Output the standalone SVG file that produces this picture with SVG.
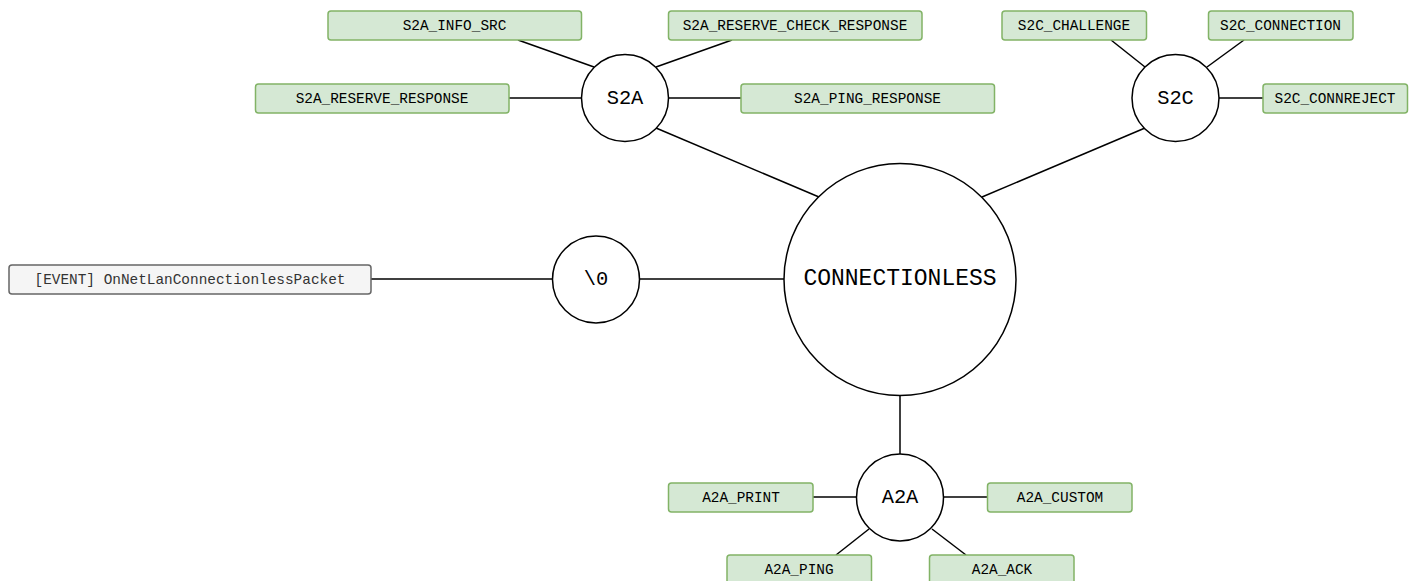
<svg xmlns="http://www.w3.org/2000/svg" width="1412" height="581" viewBox="0 0 1412 581">
<style>
.box{fill:#d5e8d4;stroke:#82b366;stroke-width:1.5}
.ev{fill:#f5f5f5;stroke:#666666;stroke-width:1.5}
.circ{fill:#ffffff;stroke:#000000;stroke-width:1.5}
.edge{stroke:#000000;stroke-width:1.5;fill:none}
.bt{font-family:"Liberation Mono",monospace;font-size:14.4px;fill:#000000;text-anchor:middle;dominant-baseline:central}
.et{font-family:"Liberation Mono",monospace;font-size:14.4px;fill:#333333;text-anchor:middle;dominant-baseline:central}
.ct{font-family:"Liberation Mono",monospace;font-size:20.4px;fill:#000000;text-anchor:middle;dominant-baseline:central}
.big{font-family:"Liberation Mono",monospace;font-size:23px;fill:#000000;text-anchor:middle;dominant-baseline:central}
</style>
<rect width="1412" height="581" fill="#ffffff"/>
<g id="connectors">
<line class="edge" x1="518" y1="40" x2="594" y2="67"/>
<line class="edge" x1="732" y1="40" x2="656" y2="67"/>
<line class="edge" x1="509" y1="98" x2="582" y2="98"/>
<line class="edge" x1="668" y1="98" x2="741" y2="98"/>
<line class="edge" x1="656" y1="128" x2="819" y2="197"/>
<line class="edge" x1="1111" y1="40" x2="1145" y2="67"/>
<line class="edge" x1="1244" y1="40" x2="1207" y2="67"/>
<line class="edge" x1="1219" y1="98" x2="1263" y2="98"/>
<line class="edge" x1="1145" y1="128" x2="982" y2="197"/>
<line class="edge" x1="371" y1="279" x2="553" y2="279"/>
<line class="edge" x1="639" y1="279" x2="784" y2="279"/>
<line class="edge" x1="900" y1="396" x2="900" y2="454"/>
<line class="edge" x1="813" y1="497" x2="857" y2="497"/>
<line class="edge" x1="943" y1="497" x2="988" y2="497"/>
<line class="edge" x1="836" y1="555" x2="869" y2="529"/>
<line class="edge" x1="966" y1="555" x2="932" y2="529"/>
</g>
<g id="connectionless"><circle class="circ" cx="900" cy="279.5" r="116"/><text class="big" x="900" y="279">CONNECTIONLESS</text></g>
<g id="s2a"><circle class="circ" cx="625" cy="98" r="43.5"/><text class="ct" x="625" y="98">S2A</text></g>
<g id="s2c"><circle class="circ" cx="1175.5" cy="98" r="43.5"/><text class="ct" x="1175.5" y="98">S2C</text></g>
<g id="nul"><circle class="circ" cx="596" cy="279.5" r="43.5"/><text class="ct" x="596" y="279">\0</text></g>
<g id="a2a"><circle class="circ" cx="900" cy="497.5" r="43.5"/><text class="ct" x="900" y="497">A2A</text></g>
<g id="s2a_info_src"><rect class="box" x="328" y="11" width="253.5" height="29" rx="3"/><text class="bt" x="454.5" y="25.5">S2A_INFO_SRC</text></g>
<g id="s2a_reserve_check_response"><rect class="box" x="668.5" y="11" width="253.5" height="29" rx="3"/><text class="bt" x="795" y="25.5">S2A_RESERVE_CHECK_RESPONSE</text></g>
<g id="s2a_reserve_response"><rect class="box" x="255.5" y="84" width="253.5" height="29" rx="3"/><text class="bt" x="382" y="98.5">S2A_RESERVE_RESPONSE</text></g>
<g id="s2a_ping_response"><rect class="box" x="741" y="84" width="253.5" height="29" rx="3"/><text class="bt" x="867.5" y="98.5">S2A_PING_RESPONSE</text></g>
<g id="s2c_challenge"><rect class="box" x="1002" y="11" width="144.5" height="29" rx="3"/><text class="bt" x="1074" y="25.5">S2C_CHALLENGE</text></g>
<g id="s2c_connection"><rect class="box" x="1208.5" y="11" width="144.5" height="29" rx="3"/><text class="bt" x="1280.5" y="25.5">S2C_CONNECTION</text></g>
<g id="s2c_connreject"><rect class="box" x="1263" y="84" width="144.5" height="29" rx="3"/><text class="bt" x="1335" y="98.5">S2C_CONNREJECT</text></g>
<g id="event"><rect class="ev" x="9" y="265" width="362" height="29" rx="3"/><text class="et" x="190" y="279.5">[EVENT] OnNetLanConnectionlessPacket</text></g>
<g id="a2a_print"><rect class="box" x="668.5" y="483" width="144.5" height="29" rx="3"/><text class="bt" x="741" y="497.5">A2A_PRINT</text></g>
<g id="a2a_custom"><rect class="box" x="987.5" y="483" width="144.5" height="29" rx="3"/><text class="bt" x="1060" y="497.5">A2A_CUSTOM</text></g>
<g id="a2a_ping"><rect class="box" x="727" y="555" width="144.5" height="29" rx="3"/><text class="bt" x="799" y="569.5">A2A_PING</text></g>
<g id="a2a_ack"><rect class="box" x="929.5" y="555" width="144.5" height="29" rx="3"/><text class="bt" x="1002" y="569.5">A2A_ACK</text></g>
</svg>
